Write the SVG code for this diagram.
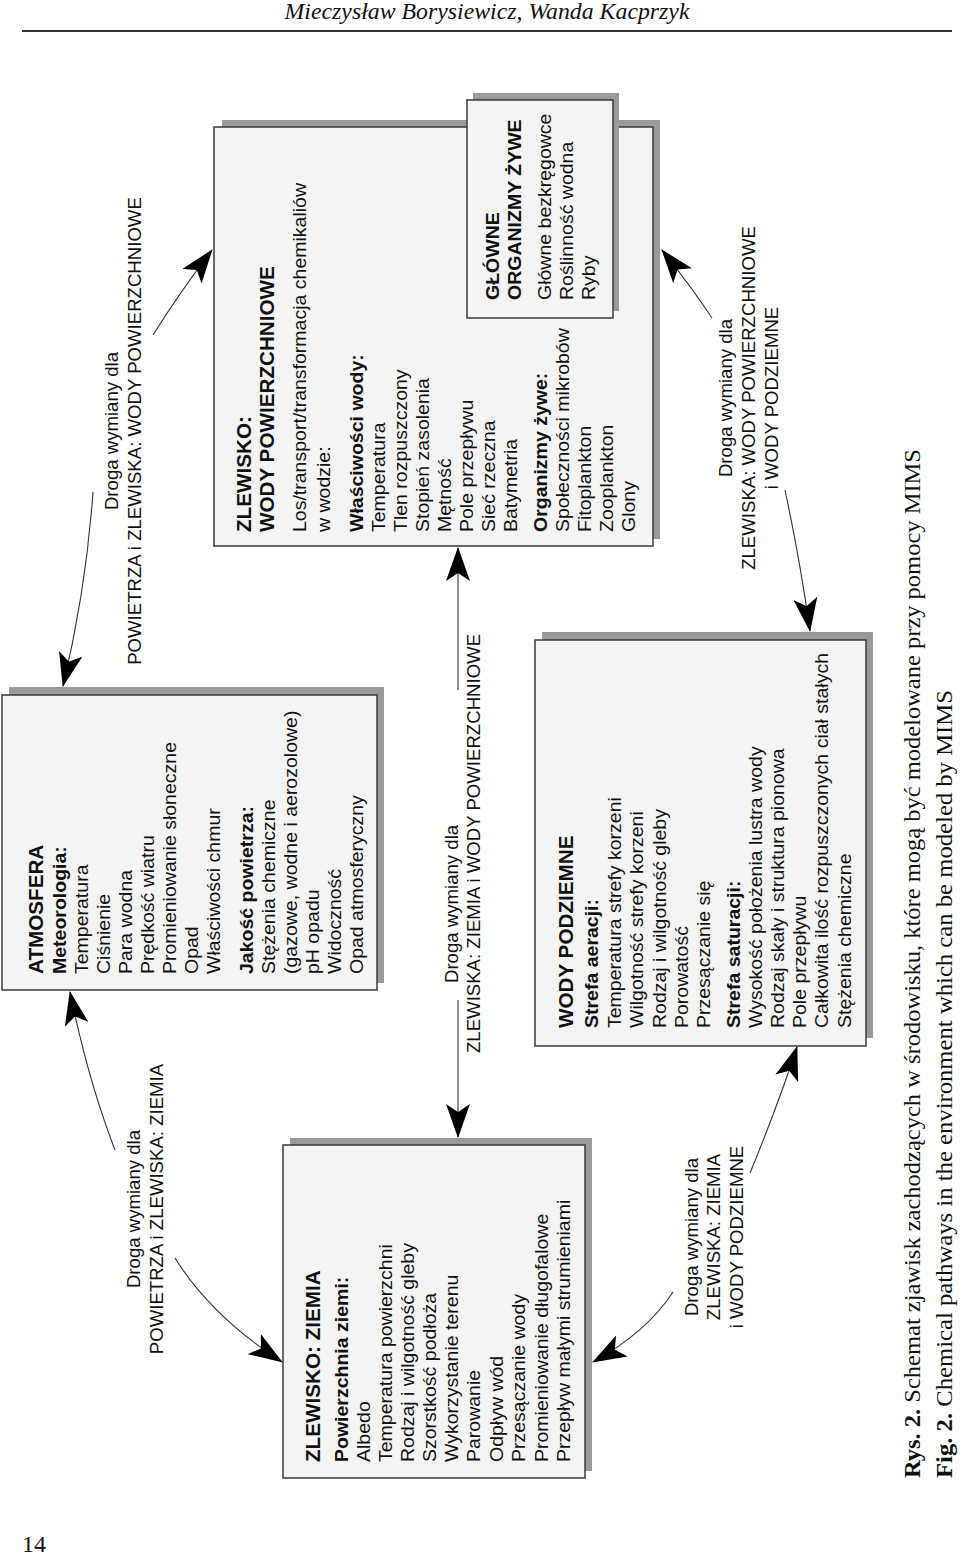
<svg xmlns="http://www.w3.org/2000/svg" width="960" height="1555" viewBox="0 0 960 1555">
<style>
.bg{fill:#ffffff}
.box{fill:#f4f4f4;stroke:#3a3a3a;stroke-width:1.5}
.sh{fill:#9a9a9a}
.t{font-family:"Liberation Sans",Arial,sans-serif;font-size:18.5px;fill:#111}
.b{font-weight:bold}
.h{font-size:19.6px}
.lb{font-family:"Liberation Sans",Arial,sans-serif;font-size:18.6px;fill:#111}
.cap{font-family:"Liberation Serif","Times New Roman",serif;font-size:24px;fill:#111}
.con{fill:none;stroke:#333;stroke-width:1.1;marker-end:url(#ah)}
</style>
<defs>
<marker id="ah" viewBox="0 0 34 24" markerWidth="34" markerHeight="24" refX="33" refY="12" orient="auto" markerUnits="userSpaceOnUse">
<path d="M0,0 L34,12 L0,24 L8,12 Z" fill="#000"/>
</marker>
</defs>
<rect class="bg" x="0" y="0" width="960" height="1555"/>

<g id="header">
<text class="cap" x="487" y="19" text-anchor="middle" font-style="italic" textLength="405" lengthAdjust="spacingAndGlyphs">Mieczysław Borysiewicz, Wanda Kacprzyk</text>
<line x1="22" y1="31" x2="952" y2="31" stroke="#333" stroke-width="2"/>
</g>

<g id="connectors">
<path class="con" d="M93,492 Q86,590 63,686"/>
<path class="con" d="M153,335 Q180,292 212,250"/>
<path class="con" d="M115,1150 Q88,1080 70,992"/>
<path class="con" d="M175,1258 Q211,1316 282,1362"/>
<path class="con" d="M750,1173 Q778,1105 797,1047"/>
<path class="con" d="M673,1292 Q647,1332 593,1362"/>
<path class="con" d="M712,318 Q690,285 662,250"/>
<path class="con" d="M785,490 Q800,560 810,631"/>
<path class="con" d="M458,690 L458,548"/>
<path class="con" d="M458,1000 L458,1137"/>
</g>

<g id="atmosfera">
<rect class="sh" x="9" y="687" width="375" height="296"/>
<rect class="box" x="2" y="695" width="375" height="295"/>
<g transform="matrix(0,-1.055,1,0,0,974)">
<text class="t b h" x="0" y="43">ATMOSFERA</text>
<text class="t b" x="0" y="66">Meteorologia:</text>
<text class="t" x="0" y="88">Temperatura</text>
<text class="t" x="0" y="110">Ciśnienie</text>
<text class="t" x="0" y="132">Para wodna</text>
<text class="t" x="0" y="154">Prędkość wiatru</text>
<text class="t" x="0" y="176">Promieniowanie słoneczne</text>
<text class="t" x="0" y="198">Opad</text>
<text class="t" x="0" y="220">Właściwości chmur</text>
<text class="t b" x="0" y="253">Jakość powietrza:</text>
<text class="t" x="0" y="275">Stężenia chemiczne</text>
<text class="t" x="0" y="297">(gazowe, wodne i aerozolowe)</text>
<text class="t" x="0" y="319">pH opadu</text>
<text class="t" x="0" y="341">Widoczność</text>
<text class="t" x="0" y="363">Opad atmosferyczny</text>
</g>
</g>

<g id="wody-powierzchniowe">
<rect class="sh" x="222" y="120" width="438" height="419"/>
<rect class="box" x="214" y="127" width="439" height="419"/>
<g transform="matrix(0,-1.055,1,0,0,532)">
<text class="t b h" x="0" y="251">ZLEWISKO:</text>
<text class="t b h" x="0" y="274">WODY POWIERZCHNIOWE</text>
<text class="t" x="0" y="306">Los/transport/transformacja chemikaliów</text>
<text class="t" x="0" y="330">w wodzie:</text>
<text class="t b" x="0" y="363">Właściwości wody:</text>
<text class="t" x="0" y="385">Temperatura</text>
<text class="t" x="0" y="407">Tlen rozpuszczony</text>
<text class="t" x="0" y="429">Stopień zasolenia</text>
<text class="t" x="0" y="451">Mętność</text>
<text class="t" x="0" y="473">Pole przepływu</text>
<text class="t" x="0" y="495">Sieć rzeczna</text>
<text class="t" x="0" y="517">Batymetria</text>
<text class="t b" x="0" y="547">Organizmy żywe:</text>
<text class="t" x="0" y="569">Społeczności mikrobów</text>
<text class="t" x="0" y="591">Fitoplankton</text>
<text class="t" x="0" y="613">Zooplankton</text>
<text class="t" x="0" y="635">Glony</text>
</g>
</g>

<g id="glowne-organizmy">
<rect class="sh" x="473" y="93" width="146" height="218"/>
<rect class="box" x="467" y="100" width="146" height="218"/>
<g transform="matrix(0,-1.055,1,0,0,300)">
<text class="t b" x="0" y="499">GŁÓWNE</text>
<text class="t b" x="0" y="521">ORGANIZMY ŻYWE</text>
<text class="t" x="0" y="551">Główne bezkręgowce</text>
<text class="t" x="0" y="573">Roślinność wodna</text>
<text class="t" x="0" y="595">Ryby</text>
</g>
</g>

<g id="wody-podziemne">
<rect class="sh" x="542" y="632" width="331" height="406"/>
<rect class="box" x="535" y="640" width="331" height="406"/>
<g transform="matrix(0,-1.055,1,0,0,1028)">
<text class="t b h" x="0" y="573">WODY PODZIEMNE</text>
<text class="t b" x="0" y="598">Strefa aeracji:</text>
<text class="t" x="0" y="621">Temperatura strefy korzeni</text>
<text class="t" x="0" y="643">Wilgotność strefy korzeni</text>
<text class="t" x="0" y="666">Rodzaj i wilgotność gleby</text>
<text class="t" x="0" y="688">Porowatość</text>
<text class="t" x="0" y="710">Przesączanie się</text>
<text class="t b" x="0" y="740">Strefa saturacji:</text>
<text class="t" x="0" y="762">Wysokość położenia lustra wody</text>
<text class="t" x="0" y="784">Rodzaj skały i struktura pionowa</text>
<text class="t" x="0" y="806">Pole przepływu</text>
<text class="t" x="0" y="828">Całkowita ilość rozpuszczonych ciał stałych</text>
<text class="t" x="0" y="851">Stężenia chemiczne</text>
</g>
</g>

<g id="ziemia">
<rect class="sh" x="290" y="1138" width="302" height="333"/>
<rect class="box" x="283" y="1145" width="302" height="333"/>
<g transform="matrix(0,-1.055,1,0,0,1462)">
<text class="t b h" x="0" y="320">ZLEWISKO: ZIEMIA</text>
<text class="t b" x="0" y="348">Powierzchnia ziemi:</text>
<text class="t" x="0" y="370">Albedo</text>
<text class="t" x="0" y="392">Temperatura powierzchni</text>
<text class="t" x="0" y="414">Rodzaj i wilgotność gleby</text>
<text class="t" x="0" y="436">Szorstkość podłoża</text>
<text class="t" x="0" y="458">Wykorzystanie terenu</text>
<text class="t" x="0" y="480">Parowanie</text>
<text class="t" x="0" y="503">Odpływ wód</text>
<text class="t" x="0" y="525">Przesączanie wody</text>
<text class="t" x="0" y="548">Promieniowanie długofalowe</text>
<text class="t" x="0" y="570">Przepływ małymi strumieniami</text>
</g>
</g>

<g id="labels">
<g transform="matrix(0,-1,1,0,0,431)">
<text class="lb" x="0" y="118" text-anchor="middle">Droga wymiany dla</text>
<text class="lb" x="0" y="141" text-anchor="middle">POWIETRZA i ZLEWISKA: WODY POWIERZCHNIOWE</text>
</g>
<g transform="matrix(0,-1,1,0,0,1209)">
<text class="lb" x="0" y="140" text-anchor="middle">Droga wymiany dla</text>
<text class="lb" x="0" y="163" text-anchor="middle">POWIETRZA i ZLEWISKA: ZIEMIA</text>
</g>
<g transform="matrix(0,-1,1,0,0,0)">
<text class="lb" x="-983" y="458">Droga wymiany dla</text>
<text class="lb" x="-1053" y="480">ZLEWISKA: ZIEMIA i WODY POWIERZCHNIOWE</text>
</g>
<g transform="matrix(0,-1,1,0,0,1237)">
<text class="lb" x="0" y="698" text-anchor="middle">Droga wymiany dla</text>
<text class="lb" x="0" y="720" text-anchor="middle">ZLEWISKA: ZIEMIA</text>
<text class="lb" x="0" y="743" text-anchor="middle">i WODY PODZIEMNE</text>
</g>
<g transform="matrix(0,-1,1,0,0,398)">
<text class="lb" x="0" y="732" text-anchor="middle">Droga wymiany dla</text>
<text class="lb" x="0" y="755" text-anchor="middle">ZLEWISKA: WODY POWIERZCHNIOWE</text>
<text class="lb" x="0" y="778" text-anchor="middle">i WODY PODZIEMNE</text>
</g>
</g>

<g id="caption">
<g transform="matrix(0,-1,1,0,0,1478)">
<text class="cap" x="0" y="920" textLength="1029" lengthAdjust="spacingAndGlyphs"><tspan font-weight="bold">Rys. 2.</tspan> Schemat zjawisk zachodzących w środowisku, które mogą być modelowane przy pomocy MIMS</text>
<text class="cap" x="0" y="952" textLength="788" lengthAdjust="spacingAndGlyphs"><tspan font-weight="bold">Fig. 2.</tspan> Chemical pathways in the environment which can be modeled by MIMS</text>
</g>
</g>

<g id="page-number">
<text class="cap" x="22" y="1552">14</text>
</g>
</svg>
